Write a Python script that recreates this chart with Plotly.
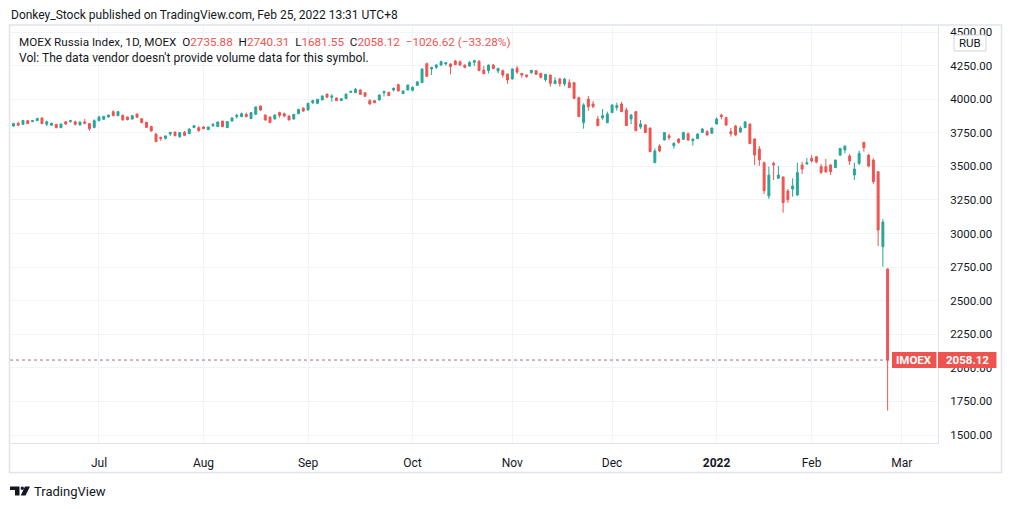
import pandas as pd
import plotly.graph_objects as go

# ---------------- data ----------------
holidays = ["2021-06-14", "2021-11-04", "2021-12-31", "2022-01-07", "2022-02-23"]
dates = [d.strftime("%Y-%m-%d") for d in pd.bdate_range("2021-06-03", "2022-02-24")
         if d.strftime("%Y-%m-%d") not in holidays]
future_dates = [d.strftime("%Y-%m-%d") for d in pd.bdate_range("2022-02-25", "2022-03-14")]

open_ = [3800, 3800, 3820, 3813, 3840, 3833, 3840, 3860, 3813, 3806,
         3813, 3788, 3832, 3833, 3832, 3808, 3830, 3818, 3790, 3840,
         3850, 3867, 3907, 3877, 3880, 3867, 3852, 3890, 3855, 3828,
         3798, 3741, 3716, 3708, 3741, 3753, 3721, 3753, 3743, 3788,
         3788, 3793, 3773, 3803, 3795, 3837, 3788, 3837, 3870, 3870,
         3887, 3855, 3887, 3949, 3882, 3867, 3852, 3900, 3892, 3875,
         3852, 3892, 3934, 3919, 3974, 3969, 3994, 4038, 4014, 4009,
         3989, 4004, 4051, 4048, 4068, 4048, 3989, 3989, 3994, 4048,
         4051, 4068, 4108, 4041, 4068, 4066, 4103, 4123, 4264, 4225,
         4237, 4254, 4262, 4262, 4284, 4279, 4254, 4247, 4274, 4282,
         4217, 4212, 4254, 4210, 4212, 4187, 4150, 4230, 4192, 4180,
         4197, 4212, 4192, 4145, 4180, 4115, 4150, 4113, 4123, 4123,
         4011, 3825, 4001, 3964, 3852, 3860, 3825, 3900, 3937, 3964,
         3919, 3852, 3907, 3793, 3808, 3785, 3527, 3651, 3696, 3728,
         3654, 3703, 3701, 3743, 3691, 3706, 3753, 3758, 3746, 3815,
         3882, 3862, 3758, 3800, 3756, 3788, 3815, 3704, 3629, 3527,
         3279, 3522, 3411, 3421, 3316, 3331, 3287, 3510, 3517, 3559,
         3572, 3498, 3498, 3510, 3490, 3584, 3622, 3577, 3435, 3522,
         3679, 3584, 3547, 3460, 2902, 2735.88]
high = [3808, 3823, 3832, 3845, 3845, 3845, 3860, 3862, 3840, 3826,
        3815, 3818, 3838, 3847, 3840, 3832, 3852, 3820, 3850, 3877,
        3875, 3885, 3917, 3912, 3884, 3870, 3882, 3892, 3858, 3830,
        3800, 3745, 3720, 3730, 3755, 3763, 3755, 3763, 3780, 3806,
        3798, 3800, 3795, 3820, 3833, 3840, 3837, 3867, 3892, 3900,
        3900, 3902, 3945, 3952, 3885, 3870, 3885, 3907, 3900, 3877,
        3890, 3927, 3937, 3972, 3996, 4001, 4027, 4040, 4036, 4012,
        4007, 4040, 4062, 4083, 4073, 4051, 3999, 3992, 4034, 4063,
        4054, 4088, 4115, 4063, 4108, 4095, 4135, 4228, 4272, 4242,
        4262, 4287, 4277, 4267, 4292, 4287, 4257, 4282, 4292, 4289,
        4247, 4257, 4262, 4232, 4222, 4190, 4227, 4247, 4195, 4182,
        4217, 4215, 4195, 4187, 4182, 4163, 4160, 4160, 4148, 4126,
        4019, 3969, 4024, 3986, 3875, 3927, 3907, 3960, 3974, 3981,
        3937, 3890, 3912, 3845, 3815, 3790, 3634, 3664, 3753, 3743,
        3679, 3711, 3758, 3751, 3706, 3743, 3785, 3770, 3788, 3865,
        3890, 3870, 3785, 3808, 3800, 3837, 3818, 3706, 3651, 3535,
        3498, 3535, 3503, 3423, 3331, 3411, 3527, 3535, 3562, 3584,
        3574, 3517, 3555, 3517, 3549, 3636, 3654, 3592, 3527, 3617,
        3681, 3592, 3560, 3462, 3108, 2740.31]
low = [3795, 3795, 3803, 3810, 3815, 3830, 3837, 3815, 3800, 3802,
       3783, 3785, 3808, 3825, 3803, 3805, 3813, 3765, 3783, 3837,
       3847, 3864, 3874, 3874, 3838, 3844, 3847, 3862, 3822, 3786,
       3760, 3681, 3689, 3700, 3726, 3724, 3711, 3728, 3741, 3786,
       3756, 3778, 3770, 3793, 3793, 3792, 3786, 3835, 3855, 3867,
       3867, 3853, 3885, 3912, 3840, 3822, 3850, 3862, 3865, 3842,
       3850, 3890, 3905, 3917, 3964, 3967, 3992, 4012, 3981, 3987,
       3986, 4001, 4048, 4045, 4033, 4018, 3959, 3970, 3991, 4019,
       4024, 4058, 4058, 4038, 4066, 4058, 4100, 4120, 4168, 4180,
       4225, 4247, 4250, 4185, 4254, 4247, 4230, 4240, 4247, 4210,
       4185, 4192, 4225, 4192, 4160, 4115, 4148, 4187, 4160, 4160,
       4190, 4182, 4153, 4130, 4093, 4113, 4093, 4098, 4083, 4001,
       3867, 3780, 3914, 3934, 3800, 3847, 3822, 3897, 3914, 3905,
       3800, 3813, 3763, 3778, 3748, 3606, 3525, 3604, 3693, 3696,
       3632, 3669, 3698, 3689, 3654, 3703, 3748, 3730, 3743, 3812,
       3850, 3800, 3721, 3726, 3748, 3785, 3666, 3510, 3503, 3294,
       3257, 3398, 3406, 3155, 3228, 3274, 3279, 3443, 3515, 3527,
       3522, 3443, 3455, 3435, 3488, 3577, 3597, 3510, 3398, 3510,
       3609, 3493, 3369, 2907, 2753, 1681.55]
close = [3805, 3818, 3806, 3842, 3818, 3840, 3857, 3818, 3832, 3820,
         3788, 3815, 3815, 3840, 3813, 3830, 3820, 3780, 3840, 3867,
         3872, 3882, 3877, 3907, 3847, 3847, 3877, 3865, 3825, 3790,
         3763, 3684, 3708, 3726, 3753, 3728, 3751, 3731, 3778, 3803,
         3766, 3780, 3793, 3813, 3830, 3795, 3833, 3860, 3880, 3892,
         3870, 3900, 3942, 3919, 3845, 3825, 3882, 3880, 3875, 3845,
         3887, 3924, 3912, 3969, 3989, 3999, 4024, 4014, 4024, 3989,
         4004, 4038, 4058, 4073, 4036, 4021, 3964, 3974, 4031, 4058,
         4026, 4080, 4061, 4061, 4105, 4088, 4128, 4225, 4170, 4235,
         4254, 4279, 4272, 4242, 4257, 4254, 4237, 4274, 4287, 4212,
         4190, 4254, 4227, 4230, 4180, 4143, 4225, 4202, 4180, 4168,
         4215, 4185, 4163, 4185, 4118, 4138, 4115, 4150, 4086, 4006,
         3870, 3957, 3944, 3944, 3803, 3877, 3890, 3957, 3952, 3907,
         3803, 3882, 3765, 3815, 3751, 3609, 3614, 3614, 3751, 3713,
         3671, 3679, 3751, 3696, 3703, 3741, 3778, 3733, 3785, 3852,
         3870, 3808, 3743, 3733, 3785, 3830, 3669, 3584, 3547, 3319,
         3435, 3510, 3435, 3230, 3252, 3354, 3453, 3480, 3527, 3540,
         3532, 3455, 3458, 3460, 3547, 3634, 3651, 3540, 3480, 3597,
         3639, 3502, 3386, 3026, 3084.74, 2058.12]

tick_dates = ["2021-07-01", "2021-08-02", "2021-09-01", "2021-10-01", "2021-11-01",
              "2021-12-01", "2022-01-03", "2022-02-01", "2022-03-01"]
tick_labels = ["Jul", "Aug", "Sep", "Oct", "Nov", "Dec", "<b>2022</b>", "Feb", "Mar"]
price_ticks = [1500, 1750, 2000, 2250, 2500, 2750, 3000, 3250, 3500, 3750, 4000, 4250, 4500]

last_close = close[-1]
prev_close = close[-2]
change = last_close - prev_close
change_pct = change / prev_close * 100

# ---------------- layout helpers ----------------
W, H = 1012, 509
PL, PR, PT, PB = 10, 938, 25, 443
YMIN, YMAX = 1440.5, 4552.1
XMIN, XMAX = 0.27, 195.6

UP, DOWN = "#26a69a", "#ef5350"
TXT = "#131722"
GRID = "#f0f3fa"
BORDER = "#e0e3eb"
FONT = "Roboto"


def px(x):
    return (x - PL) / (PR - PL)


def py(y):
    return (PB - y) / (PB - PT)


def pv(v):
    return (v - YMIN) / (YMAX - YMIN)


fig = go.Figure()
fig.add_trace(go.Candlestick(
    x=dates, open=open_, high=high, low=low, close=close,
    increasing=dict(line=dict(color=UP, width=1), fillcolor=UP),
    decreasing=dict(line=dict(color=DOWN, width=1), fillcolor=DOWN),
    whiskerwidth=0, hoverinfo="skip", showlegend=False,
))

shapes = []
# price line
yl = pv(last_close)
shapes.append(dict(type="line", xref="paper", yref="paper", x0=0, x1=px(892), y0=yl, y1=yl,
                   line=dict(color="#a0707a", width=1, dash="dot"), layer="above"))
# price tags
th = 8 / (PB - PT)
shapes.append(dict(type="rect", xref="paper", yref="paper", x0=px(892), x1=px(936.5),
                   y0=yl - th, y1=yl + th, fillcolor=DOWN, line=dict(width=0), layer="above"))
shapes.append(dict(type="rect", xref="paper", yref="paper", x0=px(938), x1=px(996.5),
                   y0=yl - th, y1=yl + th, fillcolor=DOWN, line=dict(width=0), layer="above"))
# cover above frame on the axis column
shapes.append(dict(type="rect", xref="paper", yref="paper", x0=px(938.5), x1=px(1012),
                   y0=py(0), y1=py(26.5), fillcolor="white", line=dict(width=0), layer="above"))
# RUB box
shapes.append(dict(type="rect", xref="paper", yref="paper", x0=px(954), x1=px(986),
                   y0=py(51), y1=py(35), fillcolor="white", line=dict(color="#d1d4dc", width=1),
                   layer="above"))
# outer frame
shapes.append(dict(type="rect", xref="paper", yref="paper", x0=px(9.5), x1=px(1001.5),
                   y0=py(472.5), y1=py(25), fillcolor="rgba(0,0,0,0)",
                   line=dict(color=BORDER, width=1.5), layer="above"))
# TradingView logo
def path(pts):
    return "M " + " L ".join(f"{px(a):.5f},{py(b):.5f}" for a, b in pts) + " Z"

shapes.append(dict(type="path", xref="paper", yref="paper",
                   path=path([(10, 486.5), (19.5, 486.5), (19.5, 495.5), (15, 495.5), (15, 490), (10, 490)]),
                   fillcolor=TXT, line=dict(width=0)))
shapes.append(dict(type="circle", xref="paper", yref="paper", x0=px(20.6), x1=px(24),
                   y0=py(490), y1=py(486.6), fillcolor=TXT, line=dict(width=0)))
shapes.append(dict(type="path", xref="paper", yref="paper",
                   path=path([(25, 486.5), (30, 486.5), (25.5, 495.5), (20.7, 495.5)]),
                   fillcolor=TXT, line=dict(width=0)))

red = lambda s: f"<span style='color:{DOWN}'>{s}</span>"
sp = "\u00a0\u00a0"
legend1 = ("MOEX Russia Index, 1D, MOEX" + sp +
           "O" + red(f"{open_[-1]:.2f}") + sp +
           "H" + red(f"{high[-1]:.2f}") + sp +
           "L" + red(f"{low[-1]:.2f}") + sp +
           "C" + red(f"{close[-1]:.2f}") + sp +
           red(f"\u2212{abs(change):.2f} (\u2212{abs(change_pct):.2f}%)"))

annotations = [
    dict(text="Donkey_Stock published on TradingView.com, Feb 25, 2022 13:31 UTC+8",
         x=px(9), y=py(15), xanchor="left", yanchor="middle", font=dict(size=12, color=TXT)),
    dict(text=legend1, x=px(17), y=py(42), xanchor="left", yanchor="middle",
         font=dict(size=11.7, color=TXT)),
    dict(text="Vol: The data vendor doesn't provide volume data for this symbol.",
         x=px(17), y=py(58), xanchor="left", yanchor="middle", font=dict(size=12.1, color=TXT)),
    dict(text="RUB", x=px(970), y=py(43), xanchor="center", yanchor="middle",
         font=dict(size=11.5, color=TXT)),
    dict(text="<b>IMOEX</b>", x=px(914.3), y=yl, xanchor="center", yanchor="middle",
         font=dict(size=11.5, color="white")),
    dict(text=f"<b>{last_close:.2f}</b>", x=px(967.3), y=yl, xanchor="center", yanchor="middle",
         font=dict(size=11.5, color="white")),
    dict(text="TradingView", x=px(31.5), y=py(491), xanchor="left", yanchor="middle",
         font=dict(size=13, color=TXT)),
]
for a in annotations:
    a.update(xref="paper", yref="paper", showarrow=False)

fig.update_layout(
    width=W, height=H,
    margin=dict(l=PL, r=W - PR, t=PT, b=H - PB),
    paper_bgcolor="white", plot_bgcolor="white",
    font=dict(family=FONT, color=TXT),
    showlegend=False,
    boxgap=0.42,
    shapes=shapes, annotations=annotations,
    hovermode=False,
    xaxis=dict(type="category", categoryorder="array", categoryarray=dates + future_dates,
               range=[XMIN, XMAX], tickmode="array", tickvals=tick_dates, ticktext=tick_labels,
               showgrid=True, gridcolor=GRID, gridwidth=1, showline=True, linecolor=BORDER,
               linewidth=1, ticks="", ticklabelstandoff=9, tickfont=dict(size=12, color=TXT),
               rangeslider=dict(visible=False), zeroline=False, fixedrange=True),
    yaxis=dict(side="right", range=[YMIN, YMAX], tickmode="array", tickvals=price_ticks,
               tickformat=".2f", showgrid=True, gridcolor=GRID, gridwidth=1, showline=True,
               linecolor=BORDER, linewidth=1, ticks="", ticklabelstandoff=9,
               tickfont=dict(size=11.5, color=TXT), zeroline=False, fixedrange=True),
)

fig.write_html("out.html", config={"displayModeBar": False},
               post_script="document.body.style.margin='0';document.body.style.overflow='hidden';")
